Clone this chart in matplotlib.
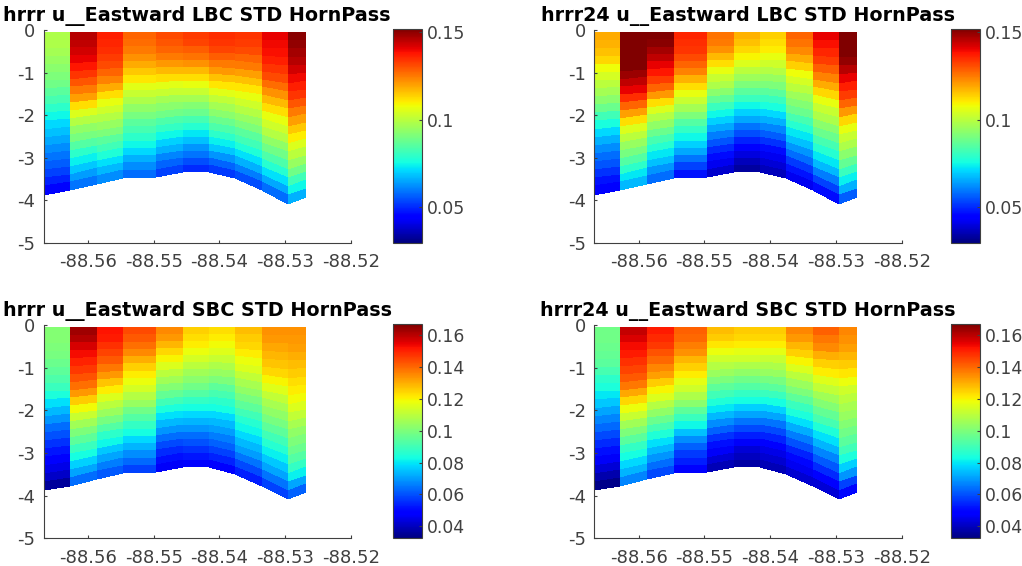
import numpy as np
import matplotlib
matplotlib.use("Agg")
import matplotlib.pyplot as plt

# transect nodes
lon = [-88.56678, -88.56282, -88.55868, -88.55467, -88.54965, -88.54558,
       -88.54153, -88.53762, -88.5335, -88.52955, -88.5268]
depth = [3.87, 3.77, 3.61, 3.47, 3.45, 3.33, 3.33, 3.49, 3.77, 4.09, 3.92]
surface = -0.047

# std per column, surface to bottom
lbc_hrrr = [
    [.098,.098,.097,.095,.093,.091,.089,.086,.083,.079,.075,.071,.068,.065,.062,.059,.056,.053,.049,.045],
    [.146,.145,.143,.141,.138,.134,.130,.125,.120,.112,.105,.099,.094,.090,.085,.079,.074,.069,.064,.059],
    [.137,.136,.135,.133,.131,.128,.124,.119,.112,.107,.103,.099,.095,.091,.086,.082,.077,.072,.067,.062],
    [.128,.127,.125,.122,.119,.115,.111,.106,.102,.098,.094,.090,.086,.083,.079,.075,.071,.066,.062,.058],
    [.131,.130,.128,.125,.121,.117,.112,.106,.102,.097,.093,.089,.084,.080,.075,.070,.066,.061,.057,.053],
    [.133,.132,.129,.126,.122,.117,.112,.107,.102,.097,.092,.088,.083,.078,.073,.068,.063,.059,.054,.050],
    [.135,.134,.132,.129,.125,.121,.116,.111,.106,.101,.097,.093,.088,.084,.079,.074,.069,.063,.057,.052],
    [.134,.133,.131,.128,.125,.120,.116,.111,.107,.103,.099,.095,.091,.086,.082,.077,.072,.066,.060,.054],
    [.141,.140,.139,.137,.134,.131,.127,.122,.117,.112,.107,.103,.099,.094,.089,.084,.078,.072,.065,.058],
    [.151,.150,.148,.146,.143,.140,.137,.134,.130,.125,.120,.115,.110,.105,.100,.095,.089,.082,.075,.066],
]
lbc_hrrr24 = [
    [.119,.118,.116,.113,.108,.104,.100,.097,.093,.088,.082,.076,.071,.066,.062,.058,.055,.051,.047,.043],
    [.160,.159,.158,.156,.154,.149,.145,.141,.135,.128,.120,.112,.105,.100,.095,.090,.085,.079,.073,.067],
    [.153,.151,.148,.145,.141,.138,.133,.128,.121,.112,.105,.099,.094,.088,.083,.078,.073,.068,.063,.058],
    [.136,.135,.134,.131,.128,.124,.118,.112,.107,.102,.097,.091,.085,.080,.075,.070,.065,.059,.053,.047],
    [.126,.125,.122,.117,.112,.107,.102,.098,.093,.087,.081,.075,.070,.065,.060,.055,.050,.046,.042,.038],
    [.118,.116,.113,.109,.105,.100,.096,.091,.086,.081,.075,.070,.065,.059,.054,.049,.044,.040,.036,.033],
    [.114,.112,.110,.107,.103,.099,.095,.091,.086,.081,.076,.071,.066,.061,.056,.051,.046,.042,.039,.036],
    [.128,.126,.123,.119,.114,.108,.104,.100,.096,.092,.088,.083,.078,.073,.068,.063,.058,.052,.047,.042],
    [.141,.139,.136,.133,.129,.124,.119,.113,.107,.102,.098,.093,.088,.083,.078,.073,.067,.060,.053,.046],
    [.156,.155,.153,.150,.146,.141,.137,.133,.128,.121,.113,.107,.102,.098,.093,.087,.081,.074,.066,.056],
]
sbc_hrrr = [
    [.101,.101,.100,.099,.097,.095,.092,.089,.084,.079,.074,.069,.064,.060,.056,.052,.048,.045,.041,.036],
    [.163,.161,.157,.153,.150,.147,.143,.139,.133,.126,.119,.112,.106,.100,.095,.089,.083,.077,.071,.064],
    [.152,.151,.148,.145,.142,.138,.133,.127,.121,.115,.110,.105,.099,.093,.087,.082,.076,.071,.066,.061],
    [.144,.142,.139,.135,.130,.125,.121,.118,.114,.109,.104,.098,.093,.088,.083,.078,.073,.068,.063,.058],
    [.135,.133,.129,.124,.120,.115,.110,.106,.101,.096,.090,.084,.079,.074,.069,.064,.059,.055,.051,.047],
    [.125,.123,.121,.118,.114,.110,.106,.102,.098,.093,.088,.083,.078,.073,.069,.064,.060,.056,.052,.048],
    [.123,.121,.119,.116,.112,.108,.104,.100,.095,.091,.087,.083,.078,.074,.070,.066,.062,.058,.054,.049],
    [.128,.126,.124,.121,.118,.115,.111,.107,.103,.099,.095,.090,.086,.082,.078,.074,.070,.065,.059,.053],
    [.134,.133,.131,.129,.127,.124,.120,.116,.111,.107,.103,.099,.095,.090,.086,.081,.076,.071,.065,.058],
    [.134,.133,.132,.130,.128,.126,.123,.121,.119,.115,.111,.107,.103,.100,.097,.093,.088,.081,.071,.062],
]
sbc_hrrr24 = [
    [.098,.098,.097,.096,.094,.091,.087,.084,.080,.076,.071,.067,.063,.059,.055,.051,.047,.043,.038,.034],
    [.159,.156,.153,.151,.148,.145,.142,.138,.131,.124,.118,.112,.106,.100,.094,.088,.083,.078,.073,.067],
    [.151,.149,.147,.143,.140,.136,.132,.126,.120,.115,.109,.103,.097,.091,.085,.079,.074,.069,.064,.059],
    [.141,.140,.137,.134,.129,.125,.121,.117,.113,.108,.102,.095,.089,.082,.075,.068,.062,.057,.053,.049],
    [.128,.126,.122,.118,.113,.109,.105,.100,.095,.090,.085,.080,.074,.068,.062,.056,.051,.047,.043,.039],
    [.126,.124,.121,.117,.113,.108,.103,.098,.093,.088,.083,.077,.071,.065,.059,.053,.047,.043,.040,.037],
    [.126,.124,.121,.117,.112,.108,.104,.099,.094,.089,.083,.077,.071,.065,.059,.054,.049,.045,.042,.039],
    [.136,.133,.129,.125,.120,.115,.110,.105,.100,.095,.089,.084,.079,.072,.066,.060,.054,.050,.046,.042],
    [.141,.138,.135,.130,.125,.121,.116,.111,.106,.101,.096,.091,.085,.079,.073,.067,.061,.055,.049,.043],
    [.136,.134,.132,.129,.126,.122,.118,.113,.110,.107,.104,.101,.098,.094,.090,.084,.077,.069,.058,.050],
]

titles = ["hrrr u__Eastward LBC STD HornPass", "hrrr24 u__Eastward LBC STD HornPass",
          "hrrr u__Eastward SBC STD HornPass", "hrrr24 u__Eastward SBC STD HornPass"]
lbc_limits = [0.0296, 0.152]
sbc_limits = [0.0325, 0.167]
lbc_ticks = [0.05, 0.1, 0.15]
lbc_ticklabels = ["0.05", "0.1", "0.15"]
sbc_ticks = [0.04, 0.06, 0.08, 0.1, 0.12, 0.14, 0.16]
sbc_ticklabels = ["0.04", "0.06", "0.08", "0.1", "0.12", "0.14", "0.16"]
xticks = [-88.56, -88.55, -88.54, -88.53, -88.52]
xticklabels = ["-88.56", "-88.55", "-88.54", "-88.53", "-88.52"]
yticks = [-5, -4, -3, -2, -1, 0]
yticklabels = ["-5", "-4", "-3", "-2", "-1", "0"]

W, H = 1022, 566
GREY = "#404040"


def box(x0, y0, x1, y1):
    # pixel corners (from top left) to figure fractions
    return [x0 / W, 1 - y1 / H, (x1 - x0) / W, (y1 - y0) / H]


fig = plt.figure(figsize=(W / 100, H / 100), dpi=100)

sigma = np.linspace(0, 1, 21)
X = np.tile(lon, (21, 1))
Z = surface - np.outer(sigma, np.array(depth) + surface)

panels = [
    (lbc_hrrr, titles[0], lbc_limits, lbc_ticks, lbc_ticklabels, 43.7, 350.7, 30, 242.7, 393, 422, 29),
    (lbc_hrrr24, titles[1], lbc_limits, lbc_ticks, lbc_ticklabels, 594, 902, 30, 242.7, 951, 980, 29),
    (sbc_hrrr, titles[2], sbc_limits, sbc_ticks, sbc_ticklabels, 43.7, 350.7, 325, 538.3, 393, 422, 324),
    (sbc_hrrr24, titles[3], sbc_limits, sbc_ticks, sbc_ticklabels, 594, 902, 325, 538.3, 951, 980, 324),
]

for vals, title, lim, cticks, clabels, left, right, top, bottom, cleft, cright, ctop in panels:
    ax = fig.add_axes(box(left, top, right, bottom))
    C = np.array(vals).T
    mesh = ax.pcolormesh(X, Z, C, cmap="jet", vmin=lim[0], vmax=lim[1], shading="flat")
    ax.set_xlim(lon[0], -88.52)
    ax.set_ylim(-5, 0)
    ax.set_xticks(xticks)
    ax.set_xticklabels(xticklabels)
    ax.set_yticks(yticks)
    ax.set_yticklabels(yticklabels)
    ax.tick_params(direction="in", length=2.5, width=0.8, color=GREY, labelcolor=GREY, labelsize=13, pad=6)
    ax.tick_params(axis="x", pad=7.5)
    ax.spines["top"].set_visible(False)
    ax.spines["right"].set_visible(False)
    ax.spines["left"].set_color(GREY)
    ax.spines["bottom"].set_color(GREY)
    ax.set_title(title, fontsize=13.8, fontweight="bold", color="black", pad=6.5)

    cax = fig.add_axes(box(cleft, ctop, cright, bottom))
    cb = fig.colorbar(mesh, cax=cax, ticks=cticks)
    cb.ax.set_yticklabels(clabels)
    cb.ax.tick_params(direction="in", length=2.5, width=0.8, color=GREY, labelcolor=GREY, labelsize=12.4, pad=3.5)
    cb.outline.set_edgecolor(GREY)
    cb.outline.set_linewidth(0.8)

fig.savefig("out.png", dpi=100)
